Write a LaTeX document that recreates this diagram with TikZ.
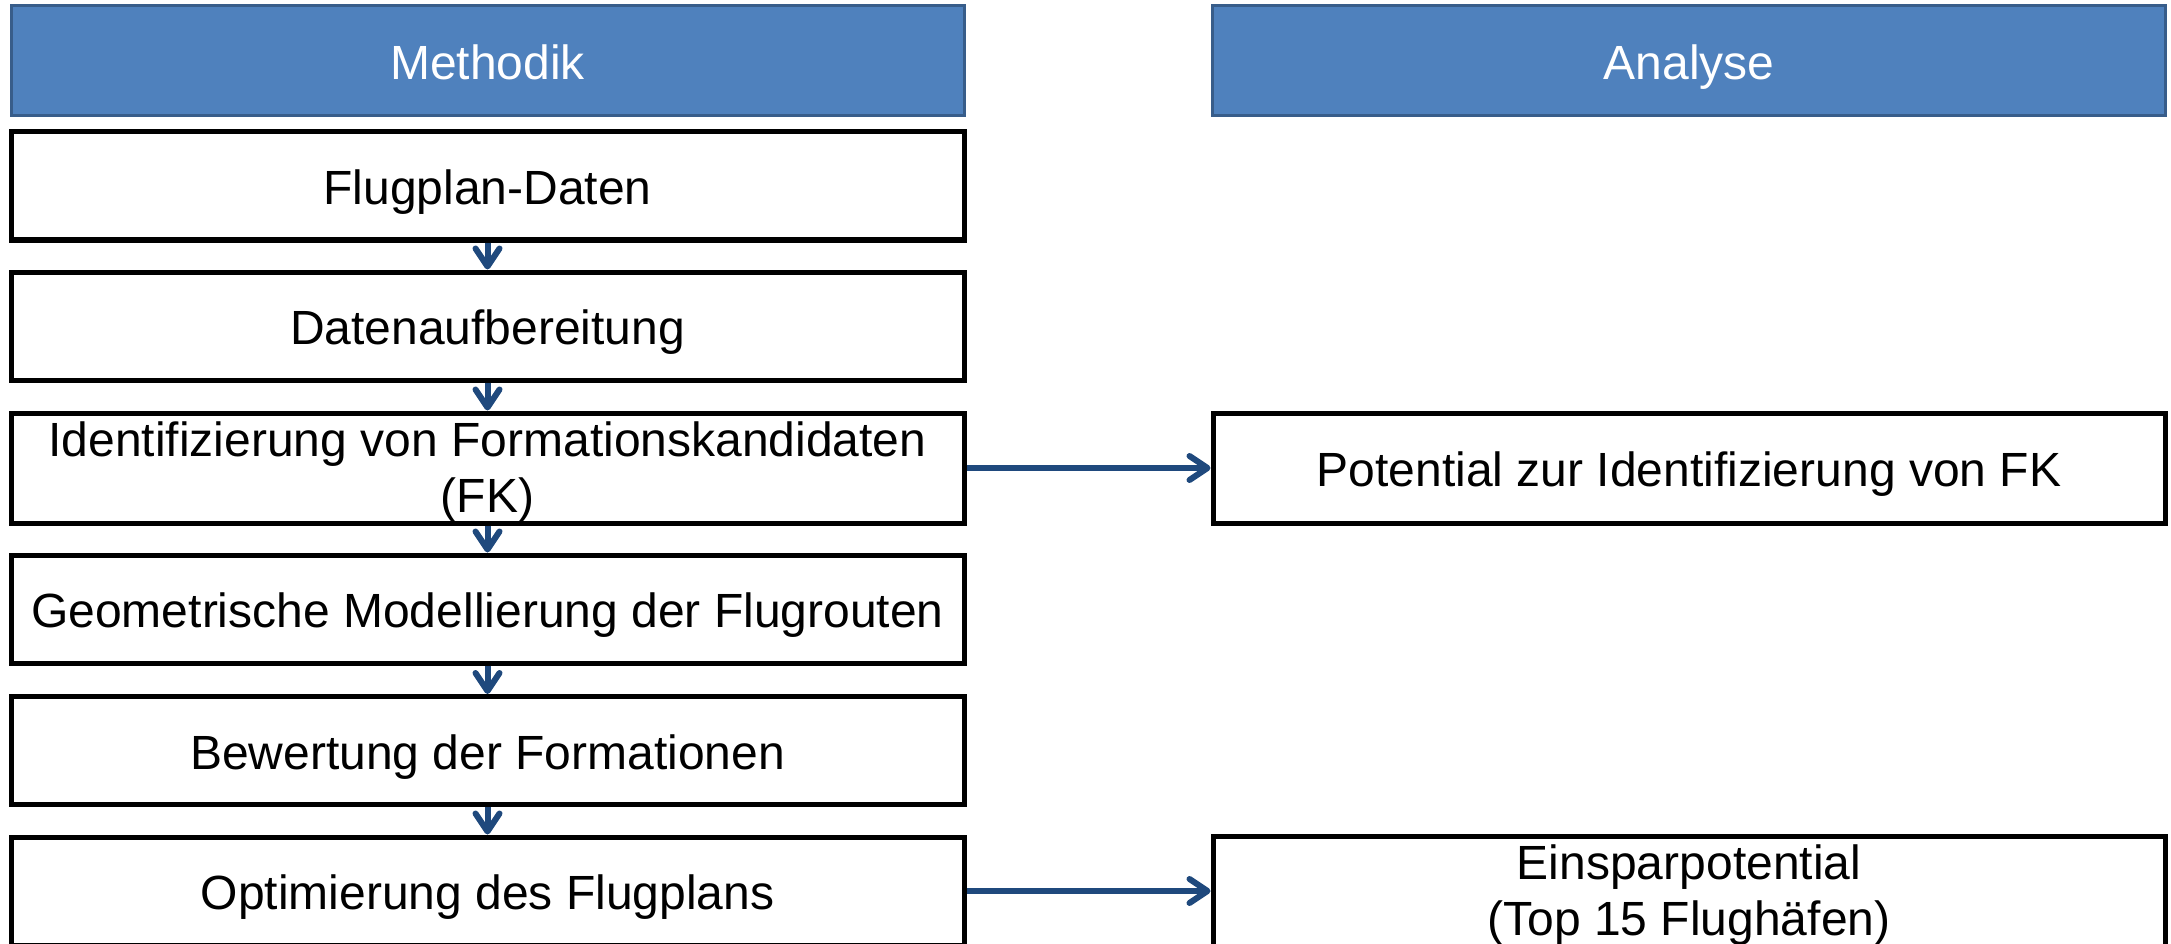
\documentclass[tikz,border=0pt]{standalone}
\usepackage{fontspec}
\setmainfont{Liberation Sans}
\usetikzlibrary{arrows.meta}
\definecolor{hdrfill}{RGB}{79,129,189}
\definecolor{hdrdraw}{RGB}{56,93,138}
\definecolor{arrblue}{RGB}{31,73,125}
\newcommand\myst{\rule[-0.212em]{0pt}{1.2em}}
\newcommand\mystb{\rule[-0.212em]{0pt}{1.117em}}
\tikzset{
  stepbox/.style={draw=black, line width=5pt, fill=white, minimum width=953pt, minimum height=108pt, inner sep=0pt, align=center, font=\fontsize{48pt}{56pt}\selectfont},
  hdrbox/.style={draw=hdrdraw, line width=3pt, fill=hdrfill, text=white, minimum width=953pt, minimum height=110pt, inner sep=0pt, align=center, font=\fontsize{48pt}{56pt}\selectfont},
  vflow/.style={draw=arrblue, line width=6pt, -{Straight Barb[length=18pt,width=24pt,round]}},
  hflow/.style={draw=arrblue, line width=6pt, -{Straight Barb[length=18pt,width=24pt,round]}}
}
\begin{document}
\begin{tikzpicture}[x=1pt,y=-1pt]
\useasboundingbox (0,0) rectangle (2171,944);
\node[hdrbox] (hm) at (487.5,61) {\myst Methodik};
\node[hdrbox] (ha) at (1689,61) {\myst Analyse};
\node[stepbox] (b1) at (487.5,186) {\myst Flugplan-Daten};
\node[stepbox] (b2) at (487.5,326) {\myst Datenaufbereitung};
\node[stepbox, minimum height=110pt] (b3) at (487.5,468) {\mystb Identifizierung von Formationskandidaten\\(FK)\mystb};
\node[stepbox] (b4) at (487.5,609) {\myst Geometrische Modellierung der Flugrouten};
\node[stepbox] (b5) at (487.5,750.5) {\myst Bewertung der Formationen};
\node[stepbox] (b6) at (487.5,891) {\myst Optimierung des Flugplans};
\node[stepbox, minimum width=952pt, minimum height=110pt] (r1) at (1689,468) {\myst Potential zur Identifizierung von FK};
\node[stepbox, minimum width=952pt, minimum height=110pt] (r2) at (1689,891) {\mystb Einsparpotential\\(Top 15 Flughäfen)\mystb};
\draw[vflow] (b1.south) -- (b2.north);
\draw[vflow] (b2.south) -- (b3.north);
\draw[vflow] (b3.south) -- (b4.north);
\draw[vflow] (b4.south) -- (b5.north);
\draw[vflow] (b5.south) -- (b6.north);
\draw[hflow] (b3.east) -- (r1.west);
\draw[hflow] (b6.east) -- (r2.west);
\end{tikzpicture}
\end{document}
